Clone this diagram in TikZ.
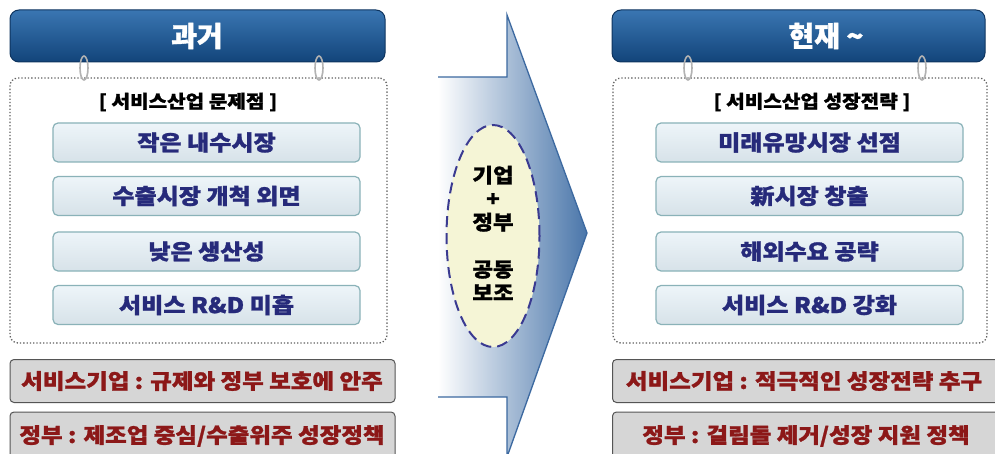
\documentclass[tikz,border=0pt]{standalone}
\usepackage{fontspec}
\setmainfont{Noto Sans CJK KR}[BoldFeatures={FakeBold=1.3}]
\newfontfamily\widefont{Noto Sans CJK KR}[FakeStretch=1.12, BoldFeatures={FakeBold=1.3}]
\usetikzlibrary{shapes.geometric}
\definecolor{hdrtop}{RGB}{58,118,178}
\definecolor{hdrbot}{RGB}{18,68,122}
\definecolor{hdredge}{RGB}{14,52,95}
\definecolor{boxfill}{RGB}{226,238,245}
\definecolor{boxedge}{RGB}{138,178,184}
\definecolor{navytext}{RGB}{38,42,122}
\definecolor{redtext}{RGB}{140,24,24}
\definecolor{grayfill}{RGB}{214,214,214}
\definecolor{grayedge}{RGB}{85,85,85}
\definecolor{arrowblue}{RGB}{74,118,170}
\definecolor{arrowmid}{RGB}{190,208,228}
\definecolor{arrowedge}{RGB}{60,105,160}
\definecolor{ellfill}{RGB}{245,245,214}
\definecolor{elledge}{RGB}{58,58,145}
\tikzset{
  header/.style={rounded corners=9pt, top color=hdrtop, bottom color=hdrbot, draw=hdredge, line width=1pt},
  hdrtext/.style={text=white, font=\bfseries\fontsize{28}{30}\selectfont},
  panel/.style={draw=gray!75!black, dotted, line width=1.3pt, rounded corners=8pt},
  titletext/.style={font=\widefont\bfseries\fontsize{18}{20}\selectfont, text=black},
  itembox/.style={rounded corners=5pt, top color=boxfill!60!white, bottom color=boxfill!95!black, draw=boxedge, line width=1.2pt, minimum width=307pt, minimum height=39pt, text=navytext, font=\widefont\bfseries\fontsize{21.5}{23}\selectfont, inner sep=0pt},
  notebox/.style={rounded corners=4pt, fill=grayfill, draw=grayedge, line width=1pt},
  notetext/.style={text=redtext, font=\widefont\bfseries\fontsize{21}{23}\selectfont},
  ringshape/.style={draw=gray!60, line width=1.6pt},
}
\begin{document}
\begin{tikzpicture}[x=1pt, y=-1pt]
\useasboundingbox (0,0) rectangle (995,454);
\clip (0,0) rectangle (995,454);
\fill[white] (0,0) rectangle (995,454);

% ---------- middle arrow ----------
\shade[left color=white, middle color=arrowmid, right color=arrowblue]
  (438,77) -- (507,77) -- (507,15) -- (587,233) -- (507,457) -- (507,397) -- (438,397) -- cycle;
\draw[arrowedge, line width=1.3pt, line join=miter]
  (438,77) -- (507,77) -- (507,15) -- (587,233) -- (507,457) -- (507,397) -- (438,397);
\node[ellipse, draw=elledge, fill=ellfill, dash pattern=on 11pt off 6pt, line width=2pt,
      minimum width=93pt, minimum height=222pt] (ell) at (493,236) {};
\node[align=center, font=\widefont\bfseries\fontsize{20}{23.5}\selectfont] (etext) at (493,233)
  {기업\\+\\정부\\[23.5pt]공동\\보조};

% ---------- left panel ----------
\node[panel, minimum width=377pt, minimum height=265pt] (lpanel) at (198.5,210.5) {};
\node[header, minimum width=375pt, minimum height=52pt] (lhead) at (197.5,36) {};
\node[hdrtext] (lheadtext) at (197,36) {과거};
\draw[ringshape] (84,68) ellipse (4pt and 12pt);
\draw[ringshape] (319,68) ellipse (4pt and 12pt);
\node[titletext] (ltitle) at (188,102) {[ 서비스산업 문제점 ]};
\node[itembox] (l1) at (206.5,142.5) {작은 내수시장};
\node[itembox] (l2) at (206.5,196) {수출시장 개척 외면};
\node[itembox] (l3) at (206.5,251.5) {낮은 생산성};
\node[itembox] (l4) at (206.5,305) {서비스 R\&D 미흡};
\node[notebox, minimum width=385pt, minimum height=43pt] (lnote1) at (202.5,381) {};
\node[notetext] (lnote1t) at (202,381) {서비스기업 : 규제와 정부 보호에 안주};
\node[notebox, minimum width=385pt, minimum height=48pt] (lnote2) at (202.5,436) {};
\node[notetext] (lnote2t) at (202,436) {정부 : 제조업 중심/수출위주 성장정책};

% ---------- right panel ----------
\node[panel, minimum width=374pt, minimum height=265pt] (rpanel) at (800,210.5) {};
\node[header, minimum width=373pt, minimum height=52pt] (rhead) at (798.5,36) {};
\node[hdrtext] (rheadtext) at (826,36) {현재 \textasciitilde};
\draw[ringshape] (688,68) ellipse (4pt and 12pt);
\draw[ringshape] (922,68) ellipse (4pt and 12pt);
\node[titletext] (rtitle) at (812,102) {[ 서비스산업 성장전략 ]};
\node[itembox] (r1) at (809.5,142.5) {미래유망시장 선점};
\node[itembox] (r2) at (809.5,196) {新시장 창출};
\node[itembox] (r3) at (809.5,251.5) {해외수요 공략};
\node[itembox] (r4) at (809.5,305) {서비스 R\&D 강화};
\node[notebox, minimum width=395pt, minimum height=43pt] (rnote1) at (810,381) {};
\node[notetext] (rnote1t) at (804,381) {서비스기업 : 적극적인 성장전략 추구};
\node[notebox, minimum width=395pt, minimum height=48pt] (rnote2) at (810,436) {};
\node[notetext] (rnote2t) at (806,436) {정부 : 걸림돌 제거/성장 지원 정책};
\end{tikzpicture}
\end{document}
